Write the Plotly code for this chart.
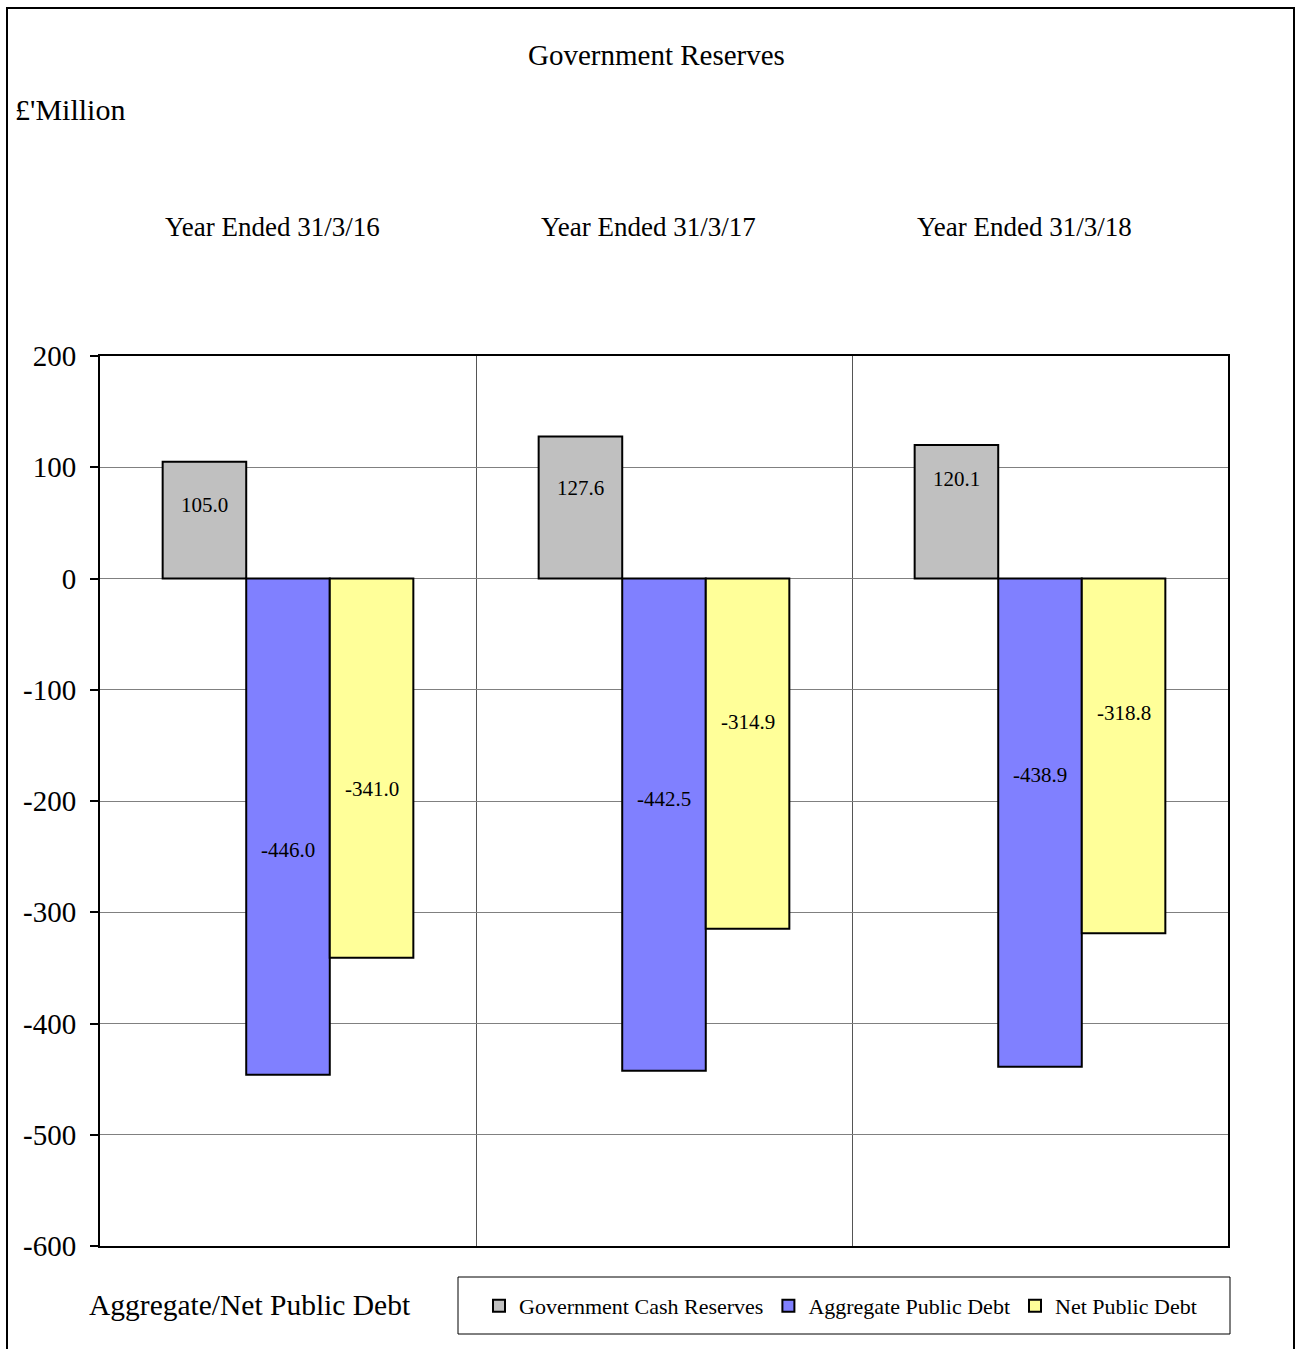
import plotly.graph_objects as go

categories = ["Year Ended 31/3/16", "Year Ended 31/3/17", "Year Ended 31/3/18"]
series_names = ["Government Cash Reserves", "Aggregate Public Debt", "Net Public Debt"]
cash_reserves = [105.0, 127.6, 120.1]
aggregate_debt = [-446.0, -442.5, -438.9]
net_debt = [-341.0, -314.9, -318.8]
y_ticks = [200, 100, 0, -100, -200, -300, -400, -500, -600]
y_tick_labels = ["200", "100", "0", "-100", "-200", "-300", "-400", "-500", "-600"]

# label placement (layout only)
label_y = [[66, 81, 89], [-244, -198, -177], [-189, -129, -121]]
colors = ["#C0C0C0", "#8080FF", "#FFFF99"]

FONT = "Liberation Serif"
xs = list(range(len(categories)))
values = [cash_reserves, aggregate_debt, net_debt]

fig = go.Figure()
for name, vals, col in zip(series_names, values, colors):
    fig.add_trace(go.Bar(
        x=xs, y=vals, name=name,
        marker=dict(color=col, line=dict(color="black", width=2)),
        hoverinfo="y",
    ))

bw = (1 - 0.3333) / 3
annotations = []
for k, vals in enumerate(values):
    for i, v in enumerate(vals):
        annotations.append(dict(
            x=i + (k - 1) * bw, y=label_y[k][i], xref="x", yref="y",
            text=f"{v:.1f}", showarrow=False,
            xanchor="center", yanchor="middle",
            font=dict(family=FONT, size=21, color="black"),
        ))
for i, c in enumerate(categories):
    annotations.append(dict(
        x=i, y=(1246 - 227) / 890, xref="x", yref="paper", xshift=-16,
        text=c, showarrow=False, xanchor="center", yanchor="middle",
        font=dict(family=FONT, size=27, color="black"),
    ))
annotations += [
    dict(x=(656 - 100) / 1128, y=(1246 - 55) / 890, xref="paper", yref="paper",
         xanchor="center", yanchor="middle",
         text="Government Reserves", showarrow=False,
         font=dict(family=FONT, size=29, color="black")),
    dict(x=(13 - 100) / 1128, y=(1246 - 110) / 890, xref="paper", yref="paper",
         xanchor="left", yanchor="middle", text="£'Million", showarrow=False,
         font=dict(family=FONT, size=30, color="black")),
    dict(x=(87 - 100) / 1128, y=(1246 - 1305) / 890, xref="paper", yref="paper",
         xanchor="left", yanchor="middle",
         text="Aggregate/Net Public Debt", showarrow=False,
         font=dict(family=FONT, size=29.5, color="black")),
]

fig.update_layout(
    width=1296, height=1349,
    margin=dict(l=100, r=68, t=356, b=103),
    paper_bgcolor="white", plot_bgcolor="white",
    barmode="group", bargap=0.3333, bargroupgap=0,
    showlegend=True,
    legend=dict(
        orientation="h", x=(479 - 100) / 1128, y=(1246 - 1306) / 890,
        xanchor="left", yanchor="middle",
        bgcolor="rgba(0,0,0,0)", borderwidth=0,
        font=dict(family=FONT, size=22, color="black"),
        itemwidth=30,
    ),
    xaxis=dict(
        range=[-0.5, 2.5], tickvals=[0.5, 1.5], ticktext=["", ""],
        showgrid=True, gridcolor="#555555", gridwidth=1,
        showline=True, linecolor="black", linewidth=2, mirror=True,
        ticks="", zeroline=False, fixedrange=True,
    ),
    yaxis=dict(
        range=[-600, 200], tickvals=y_ticks, ticktext=y_tick_labels,
        showgrid=True, gridcolor="#808080", gridwidth=1,
        showline=True, linecolor="black", linewidth=2, mirror=True,
        ticks="outside", ticklen=8, tickwidth=2, tickcolor="black",
        zeroline=True, zerolinecolor="#808080", zerolinewidth=1,
        tickfont=dict(family=FONT, size=29, color="black"),
        ticklabelstandoff=8,
    ),
    annotations=annotations,
    shapes=[
        dict(type="rect", xref="paper", yref="paper",
             x0=(7 - 100) / 1128, x1=(1294 - 100) / 1128,
             y0=-0.2, y1=(1246 - 8) / 890,
             line=dict(color="black", width=2), layer="below"),
        dict(type="rect", xref="paper", yref="paper",
             x0=(458 - 100) / 1128, x1=(1230 - 100) / 1128,
             y0=(1246 - 1334) / 890, y1=(1246 - 1277) / 890,
             line=dict(color="black", width=1), layer="below"),
    ],
)

fig.write_html("out.html")
